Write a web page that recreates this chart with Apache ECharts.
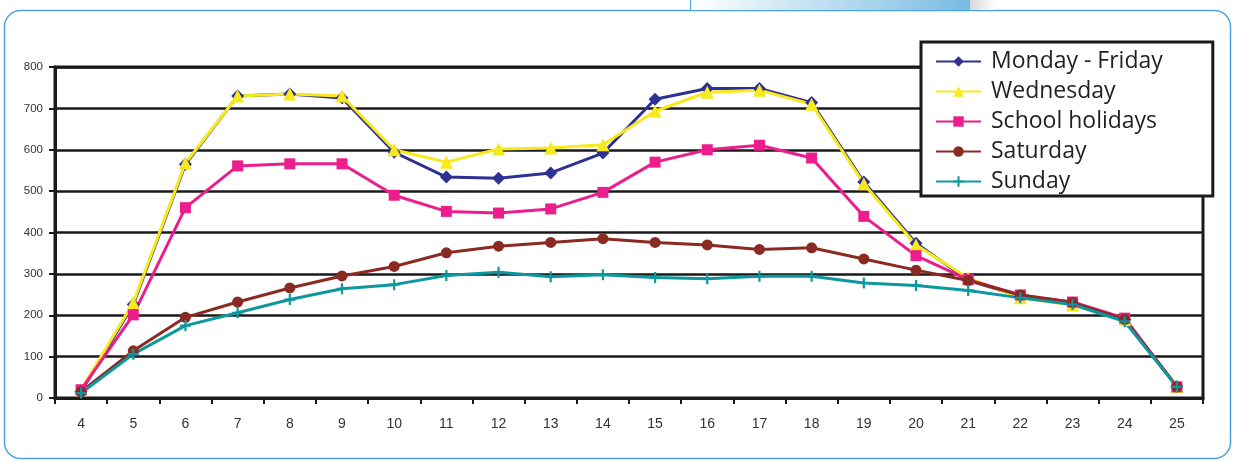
<!DOCTYPE html>
<html>
<head>
<meta charset="utf-8">
<script src="https://cdn.jsdelivr.net/npm/echarts@6/dist/echarts.min.js"></script>
<style>
html,body{margin:0;padding:0;background:#fff;}
#c{width:1233px;height:461px;}
</style>
</head>
<body>
<div id="c"></div>
<script>
const hours = ['4','5','6','7','8','9','10','11','12','13','14','15','16','17','18','19','20','21','22','23','24','25'];
const mondayFriday   = [15,226,565,730,735,725,594,534,531,544,592,722,748,748,714,522,374,285,245,228,190,28];
const wednesday      = [20,230,568,730,735,730,600,570,602,604,612,693,739,744,710,518,370,290,242,225,190,28];
const schoolHolidays = [20,201,460,561,566,566,490,451,447,457,497,570,600,611,580,439,344,286,249,232,193,27];
const saturday       = [15,114,195,232,266,295,318,351,367,376,385,376,370,359,363,336,309,284,249,231,190,27];
const sunday         = [12,106,175,206,238,264,274,296,304,293,298,291,288,294,294,278,272,260,242,226,185,27];
const yTicks = {min:0, max:800, interval:100};

const plusPath = 'path://M4,0h2v4h4v2h-4v4h-2v-4h-4v-2h4z';

function mk(name, data, color, symbol, size, extra){
  return Object.assign({
    name, type:'line', data, symbol, symbolSize:size,
    lineStyle:{color, width:3}, itemStyle:{color, borderWidth:0},
    showAllSymbol:true, animation:false, z:3
  }, extra||{});
}

const chart = echarts.init(document.getElementById('c'), null, {renderer:'canvas'});
chart.setOption({
  animation:false,
  backgroundColor:'#fff',
  graphic:[
    {type:'rect', z:-10, shape:{x:4.5,y:10.5,width:1226,height:448,r:16}, style:{fill:'none', stroke:'#4aa3df', lineWidth:1.5}},
    {type:'rect', z:-9, shape:{x:690,y:0,width:280,height:10}, style:{fill:new echarts.graphic.LinearGradient(0,0,1,0,[{offset:0,color:'#ffffff'},{offset:1,color:'#79bbe2'}])}},
    {type:'rect', z:-9, shape:{x:970,y:0,width:26,height:10}, style:{fill:new echarts.graphic.LinearGradient(0,0,1,0,[{offset:0,color:'#d8d8d8'},{offset:1,color:'#ffffff'}])}},
    {type:'line', z:-8, shape:{x1:690.5,y1:0,x2:690.5,y2:10}, style:{stroke:'#4aa3df', lineWidth:1}}
  ],
  grid:{left:55, right:30, top:67, bottom:63, show:true, borderColor:'#1a1a1a', borderWidth:3, backgroundColor:'transparent'},
  legend:{
    orient:'vertical', left:921, top:42,
    itemWidth:45, itemHeight:13, itemGap:7,
    padding:[8,50,3,14],
    backgroundColor:'#fff', borderColor:'#1a1a1a', borderWidth:3,
    textStyle:{fontFamily:'Open Sans', fontSize:23, color:'#231f20', lineHeight:22, padding:[0,0,0,5]},
    data:['Monday - Friday','Wednesday','School holidays','Saturday','Sunday'],
    z:10
  },
  xAxis:{
    type:'category', data:hours, boundaryGap:true,
    axisLine:{lineStyle:{color:'#1a1a1a', width:3}},
    axisTick:{show:true, length:6, lineStyle:{color:'#1a1a1a', width:2}},
    axisLabel:{fontFamily:'Liberation Sans', fontSize:14, color:'#333', margin:19},
    splitLine:{show:false}
  },
  yAxis:{
    type:'value', min:yTicks.min, max:yTicks.max, interval:yTicks.interval,
    axisLine:{show:true, lineStyle:{color:'#1a1a1a', width:3}},
    axisTick:{show:true, length:6, lineStyle:{color:'#1a1a1a', width:2}},
    axisLabel:{fontFamily:'Liberation Sans', fontSize:11.5, color:'#333', margin:12},
    splitLine:{show:true, lineStyle:{color:'#1a1a1a', width:2.5}}
  },
  series:[
    mk('Monday - Friday', mondayFriday, '#2e3192', 'diamond', 13),
    mk('Wednesday', wednesday, '#f7e91b', 'triangle', 13),
    mk('School holidays', schoolHolidays, '#ec1d8c', 'rect', 11),
    mk('Saturday', saturday, '#8b2a23', 'circle', 11),
    mk('Sunday', sunday, '#0d98a0', plusPath, 11)
  ]
});
</script>
</body>
</html>
